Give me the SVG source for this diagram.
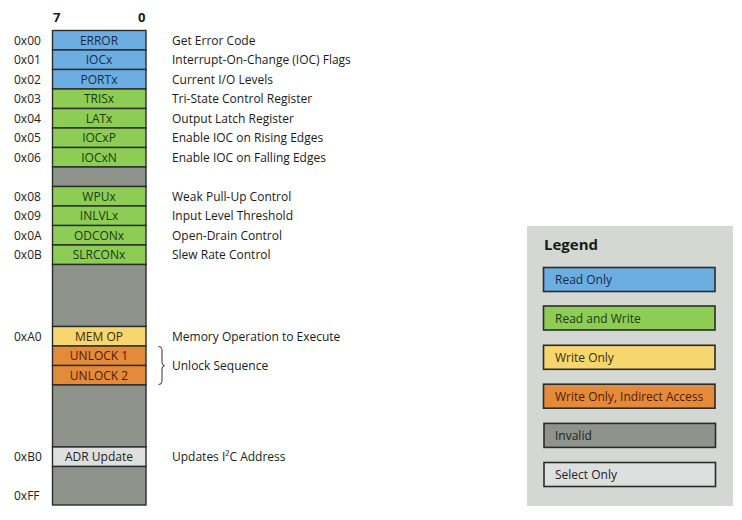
<svg xmlns="http://www.w3.org/2000/svg" width="742" height="520" viewBox="0 0 742 520">
<style>
text{font-family:"Open Sans","Liberation Sans",sans-serif;font-size:12px;fill:#1a1a1a}
.cell{stroke:#2b2b2b;stroke-width:1.4}
.ro{fill:#6daee2}.rw{fill:#8dcd55}.wo{fill:#f6d66e}.wi{fill:#e38b3b}.inv{fill:#8e948b}.sel{fill:#dedfdf}
.ct{text-anchor:middle}
.tro{fill:#132c48}.trw{fill:#1d3a0c}.two{fill:#3b2f00}.twi{fill:#561800}.tsel{fill:#222}
.addr{fill:#222}
.hdr{font-weight:bold;font-size:13px}
.lg{stroke:#2b2b2b;stroke-width:1.6}
</style>
<rect width="742" height="520" fill="#ffffff"/>
<text class="hdr" x="53" y="22">7</text>
<text class="hdr" x="138" y="22">0</text>
<g id="map">
<g id="r00"><rect class="cell ro" x="52.5" y="30.5" width="93.5" height="19.5"/><text class="ct tro" x="99" y="44.5">ERROR</text><text class="addr" x="14" y="44.5">0x00</text><text x="172" y="44.5">Get Error Code</text></g>
<g id="r01"><rect class="cell ro" x="52.5" y="50" width="93.5" height="19.5"/><text class="ct tro" x="99" y="64">IOCx</text><text class="addr" x="14" y="64">0x01</text><text x="172" y="64">Interrupt-On-Change (IOC) Flags</text></g>
<g id="r02"><rect class="cell ro" x="52.5" y="69.5" width="93.5" height="19.5"/><text class="ct tro" x="99" y="83.5">PORTx</text><text class="addr" x="14" y="83.5">0x02</text><text x="172" y="83.5">Current I/O Levels</text></g>
<g id="r03"><rect class="cell rw" x="52.5" y="89" width="93.5" height="19.5"/><text class="ct trw" x="99" y="103">TRISx</text><text class="addr" x="14" y="103">0x03</text><text x="172" y="103">Tri-State Control Register</text></g>
<g id="r04"><rect class="cell rw" x="52.5" y="108.5" width="93.5" height="19.5"/><text class="ct trw" x="99" y="122.5">LATx</text><text class="addr" x="14" y="122.5">0x04</text><text x="172" y="122.5">Output Latch Register</text></g>
<g id="r05"><rect class="cell rw" x="52.5" y="128" width="93.5" height="19.5"/><text class="ct trw" x="99" y="142">IOCxP</text><text class="addr" x="14" y="142">0x05</text><text x="172" y="142">Enable IOC on Rising Edges</text></g>
<g id="r06"><rect class="cell rw" x="52.5" y="147.5" width="93.5" height="19.5"/><text class="ct trw" x="99" y="161.5">IOCxN</text><text class="addr" x="14" y="161.5">0x06</text><text x="172" y="161.5">Enable IOC on Falling Edges</text></g>
<g id="r07"><rect class="cell inv" x="52.5" y="167" width="93.5" height="19.5"/></g>
<g id="r08"><rect class="cell rw" x="52.5" y="186.5" width="93.5" height="19.5"/><text class="ct trw" x="99" y="200.5">WPUx</text><text class="addr" x="14" y="200.5">0x08</text><text x="172" y="200.5">Weak Pull-Up Control</text></g>
<g id="r09"><rect class="cell rw" x="52.5" y="206" width="93.5" height="19.5"/><text class="ct trw" x="99" y="220">INLVLx</text><text class="addr" x="14" y="220">0x09</text><text x="172" y="220">Input Level Threshold</text></g>
<g id="r0A"><rect class="cell rw" x="52.5" y="225.5" width="93.5" height="19.5"/><text class="ct trw" x="99" y="239.5">ODCONx</text><text class="addr" x="14" y="239.5">0x0A</text><text x="172" y="239.5">Open-Drain Control</text></g>
<g id="r0B"><rect class="cell rw" x="52.5" y="245" width="93.5" height="19.5"/><text class="ct trw" x="99" y="259">SLRCONx</text><text class="addr" x="14" y="259">0x0B</text><text x="172" y="259">Slew Rate Control</text></g>
<g id="gap1"><rect class="cell inv" x="52.5" y="264.5" width="93.5" height="62"/></g>
<g id="rA0"><rect class="cell wo" x="52.5" y="326.5" width="93.5" height="19.5"/><text class="ct two" x="99" y="340.5">MEM OP</text><text class="addr" x="14" y="340.5">0xA0</text><text x="172" y="340.5">Memory Operation to Execute</text></g>
<g id="unlock1"><rect class="cell wi" x="52.5" y="346" width="93.5" height="19.5"/><text class="ct twi" x="99" y="360">UNLOCK 1</text></g>
<g id="unlock2"><rect class="cell wi" x="52.5" y="365.5" width="93.5" height="19.5"/><text class="ct twi" x="99" y="379.5">UNLOCK 2</text></g>
<g id="gap2"><rect class="cell inv" x="52.5" y="385" width="93.5" height="62"/></g>
<g id="rB0"><rect class="cell sel" x="52.5" y="447" width="93.5" height="19.5"/><text class="ct tsel" x="99" y="461">ADR Update</text><text class="addr" x="14" y="461">0xB0</text><text x="172" y="461">Updates I²C Address</text></g>
<g id="rFF"><rect class="cell inv" x="52.5" y="466.5" width="93.5" height="38.5"/><text class="addr" x="14" y="500">0xFF</text></g>
</g>
<g id="connectors">
<path d="M158.5,346.5 Q162,346.5 162,349.5 L162,362.5 Q162,365.5 164.5,365.7 Q162,366 162,369 L162,381.5 Q162,384.5 158.5,384.5" fill="none" stroke="#333" stroke-width="1"/>
<text x="172" y="370">Unlock Sequence</text>
</g>
<g id="legend">
<rect x="527" y="226" width="206" height="280" fill="#d4d8d3"/>
<text x="544" y="250" style="font-weight:bold;font-size:15px">Legend</text>
<g id="lg-ro"><rect class="lg ro" x="543.5" y="267.5" width="171.5" height="24"/><text class="tro" x="555" y="284">Read Only</text></g>
<g id="lg-rw"><rect class="lg rw" x="543.5" y="306" width="171.5" height="24"/><text class="trw" x="555" y="322.5">Read and Write</text></g>
<g id="lg-wo"><rect class="lg wo" x="543.5" y="345.3" width="171.5" height="24"/><text class="two" x="555" y="361.8">Write Only</text></g>
<g id="lg-wi"><rect class="lg wi" x="543.5" y="384.2" width="171.5" height="24"/><text class="twi" x="555" y="400.7">Write Only, Indirect Access</text></g>
<g id="lg-inv"><rect class="lg inv" x="544" y="423.4" width="171.5" height="24"/><text class="tsel" x="555" y="439.9">Invalid</text></g>
<g id="lg-sel"><rect class="lg sel" x="544" y="462.5" width="171.5" height="24"/><text class="tsel" x="555" y="479">Select Only</text></g>
</g>
</svg>
